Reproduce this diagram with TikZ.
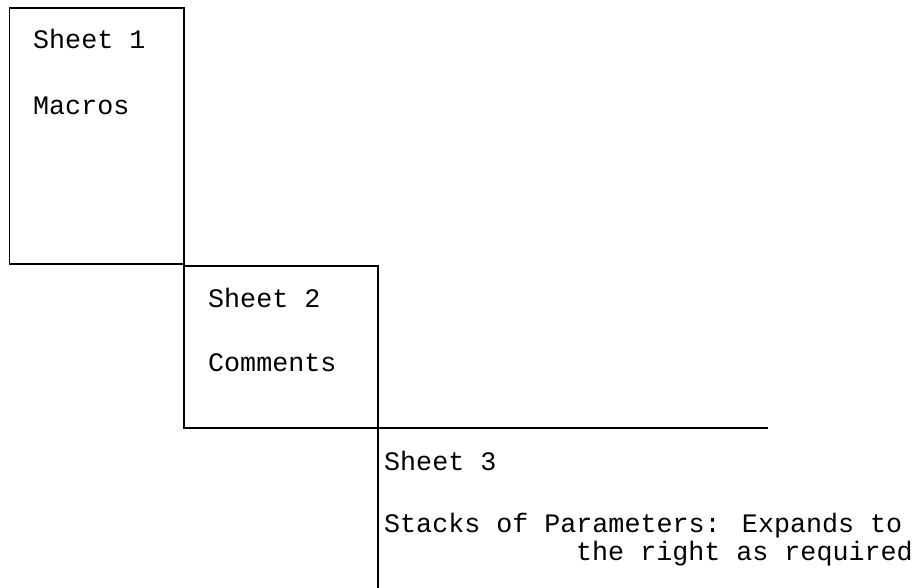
\documentclass[tikz,border=0pt]{standalone}
\usepackage{fontspec}
\newfontfamily\sheetfont{Liberation Mono}
\usetikzlibrary{calc}
\tikzset{
  sheetline/.style={line width=1.5pt, color=black},
  sheettext/.style={anchor=base west, inner sep=0pt, font=\sheetfont\fontsize{26.7}{30}\selectfont}
}

\begin{document}
\begin{tikzpicture}[x=1pt, y=-1pt]
			%%%%% START %%%%%
			\useasboundingbox (0, 0) rectangle (919, 587);
			
			\draw[sheetline] (9.5, 8) rectangle (184, 264);
			\node[sheettext] (sheetone) at (33, 48) {Sheet 1};
			\node[sheettext] (macros) at (33, 114) {Macros};
			
			\draw[sheetline] (184, 266) rectangle (378, 428);
			\node[sheettext] (sheettwo) at (208, 307) {Sheet 2};
			\node[sheettext] (comments) at (208, 371) {Comments};
			
			\draw[sheetline] (768, 428) -- (378, 428) -- (378, 590);
			\node[sheettext] (sheetthree) at (384, 470) {Sheet 3};
			\node[sheettext] (stacks) at (384, 532) {Stacks of Parameters: Expands to};
			\node[sheettext] (stackstwo) at (576, 560) {the right as required};
			
			%%%%% END %%%%%
		\end{tikzpicture}
\end{document}
